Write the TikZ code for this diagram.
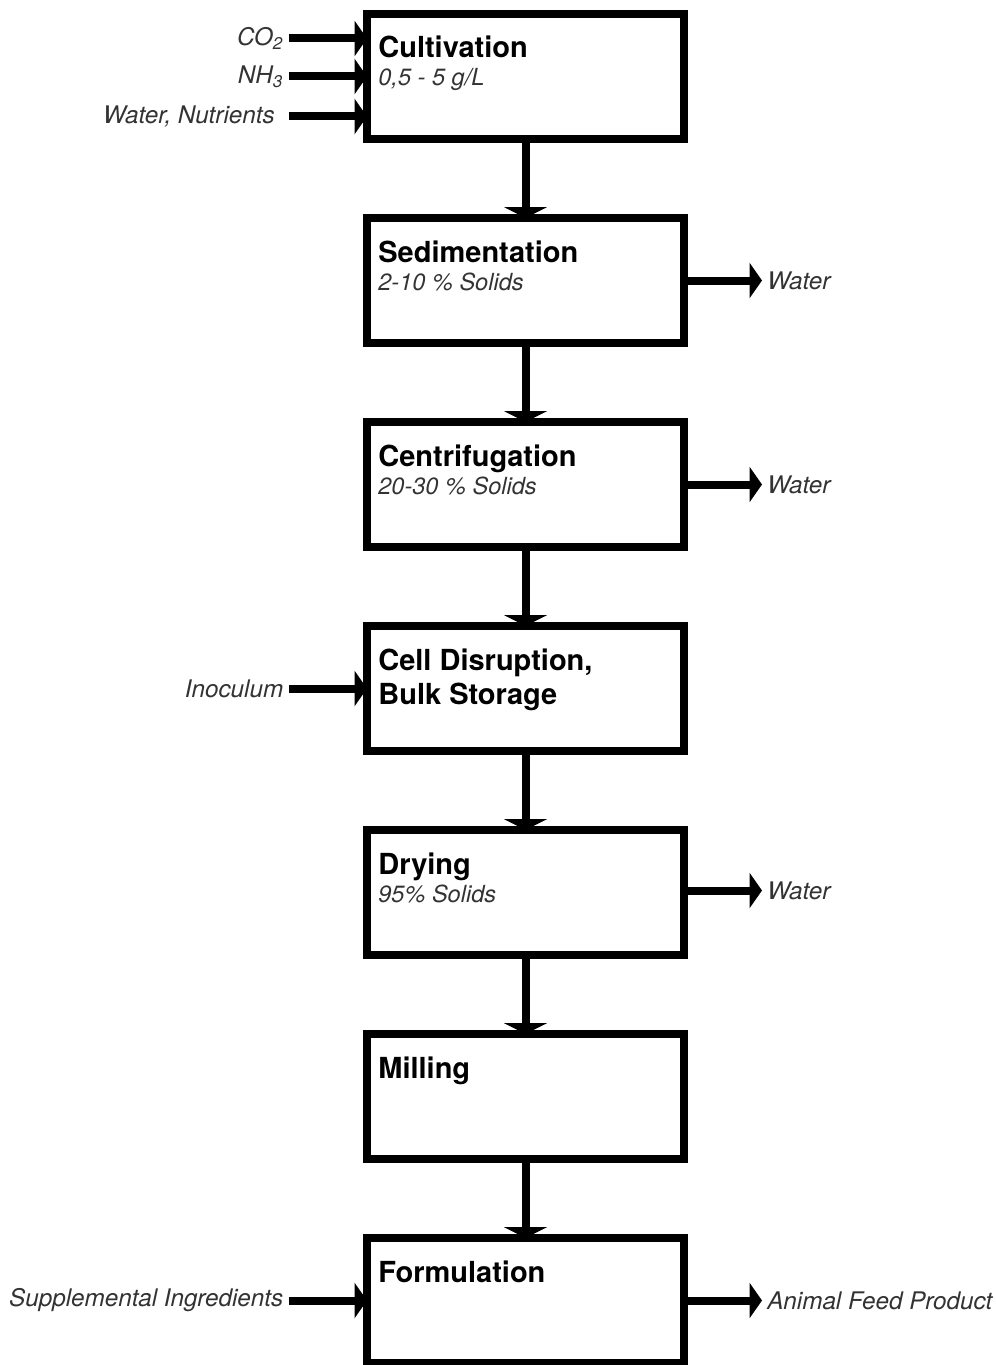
\documentclass[tikz,border=0pt]{standalone}
\usepackage{fontspec}
\setmainfont{TeX Gyre Heros}
\usetikzlibrary{arrows.meta,positioning}

\begin{document}
\begin{tikzpicture}[x=0.02cm,y=-0.02cm,
    caja/.style={draw,line width=0.16cm,minimum width=6.34cm,minimum height=2.5cm,outer sep=0pt,inner sep=0pt},
    titulo/.style={anchor=base west,inner sep=0pt,font=\fontsize{16.5}{19.3}\selectfont\bfseries,align=left},
    subt/.style={anchor=base west,inner sep=0pt,font=\fontsize{13.4}{15}\selectfont\itshape,text=black!80},
    entrada/.style={font=\fontsize{13.8}{15}\selectfont\itshape,text=black!80,inner sep=3pt,outer sep=0pt},
    flecha/.style={line width=0.16cm,-{Triangle[width=0.86cm,length=0.22cm]}},
    lado/.style={line width=0.16cm,-{Triangle[width=0.7cm,length=0.25cm]}}]
    \useasboundingbox (0,0) rectangle (995,1365);

    %Cajas del proceso
    \node[caja] (cult) at (525.5,76.5) {};
    \node[caja] (sedi) at (525.5,280.5) {};
    \node[caja] (cent) at (525.5,484.5) {};
    \node[caja] (disr) at (525.5,688.5) {};
    \node[caja] (drying) at (525.5,892.5) {};
    \node[caja] (mill) at (525.5,1096.5) {};
    \node[caja] (form) at (525.5,1300.5) {};

    \node[titulo] (cult-t) at ([shift={(11,43)}]cult.north west) {Cultivation};
    \node[subt] (cult-s) at ([shift={(11,71)}]cult.north west) {0,5 - 5 g/L};
    \node[titulo] (sedi-t) at ([shift={(11,44)}]sedi.north west) {Sedimentation};
    \node[subt] (sedi-s) at ([shift={(11,72)}]sedi.north west) {2-10 \% Solids};
    \node[titulo] (cent-t) at ([shift={(11,44)}]cent.north west) {Centrifugation};
    \node[subt] (cent-s) at ([shift={(11,72)}]cent.north west) {20-30 \% Solids};
    \node[titulo] (disr-t) at ([shift={(11,78)}]disr.north west) {Cell Disruption,\\Bulk Storage};
    \node[titulo] (drying-t) at ([shift={(11,44)}]drying.north west) {Drying};
    \node[subt] (drying-s) at ([shift={(11,72)}]drying.north west) {95\% Solids};
    \node[titulo] (mill-t) at ([shift={(11,44)}]mill.north west) {Milling};
    \node[titulo] (form-t) at ([shift={(11,44)}]form.north west) {Formulation};

    %Flechas entre cajas
    \draw[flecha] (cult) -- (sedi);
    \draw[flecha] (sedi) -- (cent);
    \draw[flecha] (cent) -- (disr);
    \draw[flecha] (disr) -- (drying);
    \draw[flecha] (drying) -- (mill);
    \draw[flecha] (mill) -- (form);

    %Entradas
    \node[entrada,anchor=east] (co2) at (288.5,38.5) {CO\textsubscript{2}};
    \node[entrada,anchor=east] (nh3) at (288.5,76.5) {NH\textsubscript{3}};
    \node[entrada,anchor=east] (nutr) at (288.5,116.5) {Water, Nutrients\kern1.7mm};
    \node[entrada,anchor=east] (inoc) at (288.5,688.5) {Inoculum};
    \node[entrada,anchor=east] (supl) at (288.5,1300.5) {Supplemental Ingredients};
    \draw[lado] (co2.east) -- (co2.east -| cult.west);
    \draw[lado] (nh3.east) -- (nh3.east -| cult.west);
    \draw[lado] (nutr.east) -- (nutr.east -| cult.west);
    \draw[lado] (inoc.east) -- (inoc.east -| disr.west);
    \draw[lado] (supl.east) -- (supl.east -| form.west);

    %Salidas
    \node[entrada,anchor=west] (agua1) at (762,280.5) {Water};
    \node[entrada,anchor=west] (agua2) at (762,484.5) {Water};
    \node[entrada,anchor=west] (agua3) at (762,890.5) {Water};
    \node[entrada,anchor=west] (pienso) at (762,1300.5) {Animal Feed Product};
    \draw[lado] (agua1.west -| sedi.east) -- (agua1.west);
    \draw[lado] (agua2.west -| cent.east) -- (agua2.west);
    \draw[lado] (agua3.west -| drying.east) -- (agua3.west);
    \draw[lado] (pienso.west -| form.east) -- (pienso.west);

\end{tikzpicture}
\end{document}
